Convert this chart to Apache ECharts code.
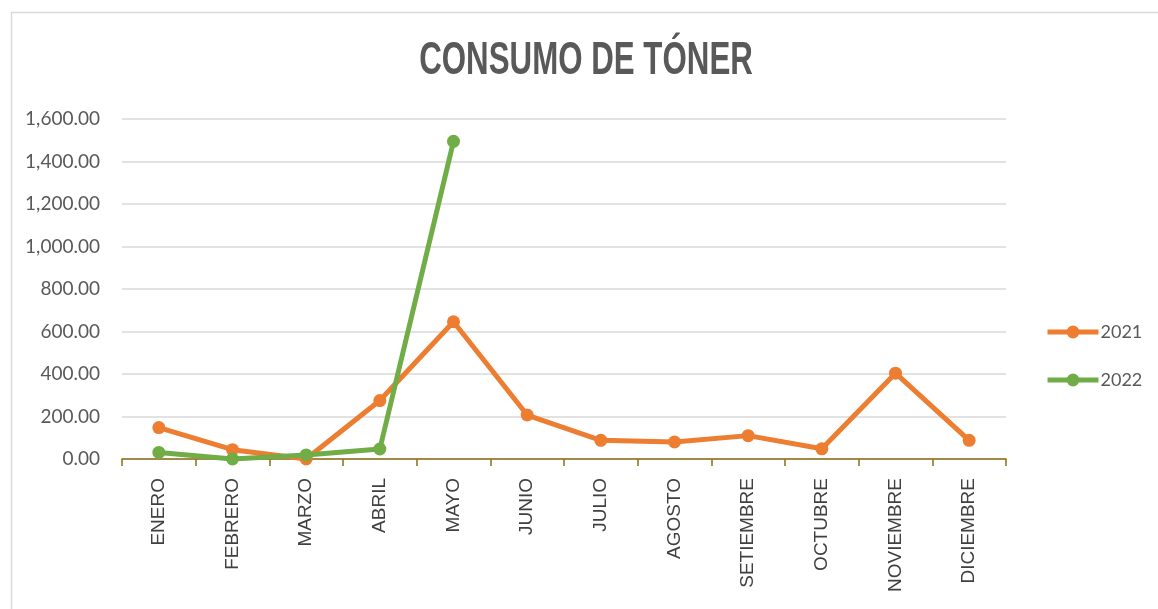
<!DOCTYPE html>
<html>
<head>
<meta charset="utf-8">
<script src="https://cdn.jsdelivr.net/npm/echarts@6/dist/echarts.min.js"></script>
<style>
  html, body { margin: 0; padding: 0; background: #fff; }
  #main { width: 1158px; height: 609px; }
</style>
</head>
<body>
<!-- contenedor del grafico -->
<div id="main"></div>
<script>
// datos
var titulo = 'CONSUMO DE TÓNER'
var meses = ['ENERO', 'FEBRERO', 'MARZO', 'ABRIL', 'MAYO', 'JUNIO', 'JULIO', 'AGOSTO', 'SETIEMBRE', 'OCTUBRE', 'NOVIEMBRE', 'DICIEMBRE']
var datos2021 = [148, 44, 0, 275, 646, 207, 88, 80, 110, 48, 404, 88]
var datos2022 = [31, 0, 19, 47, 1495]
var yTicks = [0, 200, 400, 600, 800, 1000, 1200, 1400, 1600]

var chart = echarts.init(document.getElementById('main'))

function serie(nombre, color, data) {
  return {
    name: nombre,
    type: 'line',
    data: data,
    symbol: 'circle',
    symbolSize: 13,
    lineStyle: { color: color, width: 5 },
    itemStyle: { color: color },
    emphasis: { disabled: true }
  }
}

var option = {
  animation: false,
  backgroundColor: '#fff',
  graphic: [{
    type: 'rect',
    left: 9,
    top: 10,
    shape: { width: 1200, height: 700 },
    style: { fill: 'none', stroke: '#d9d9d9', lineWidth: 1.5 },
    silent: true
  }, {
    // titulo angosto (como Arial Narrow)
    type: 'text',
    x: 586,
    y: 61,
    scaleX: 0.68,
    style: {
      text: titulo,
      fill: '#595959',
      font: 'bold 46px "Liberation Sans"',
      textAlign: 'center',
      textVerticalAlign: 'middle'
    },
    silent: true
  }],
  legend: {
    orient: 'vertical',
    left: 1040,
    top: 318,
    itemWidth: 51,
    itemHeight: 16,
    itemGap: 30,
    data: ['2021', '2022'],
    lineStyle: { width: 5 },
    textStyle: { fontFamily: 'Lato', fontSize: 18, color: '#595959', padding: [0, 0, 0, -3] }
  },
  grid: {
    left: 122,
    right: 152,
    top: 119,
    bottom: 150
  },
  xAxis: {
    type: 'category',
    data: meses,
    boundaryGap: true,
    axisLine: { lineStyle: { color: '#8c6d12', width: 1.5 } },
    axisTick: { show: true, length: 7, lineStyle: { color: '#8c6d12', width: 1.5 } },
    axisLabel: {
      rotate: 90,
      margin: 19,
      fontFamily: 'Liberation Sans',
      fontSize: 19,
      color: '#404040'
    }
  },
  yAxis: {
    type: 'value',
    min: yTicks[0],
    max: yTicks[yTicks.length - 1],
    interval: 200,
    axisLine: { show: false },
    axisTick: { show: false },
    splitLine: { lineStyle: { color: '#d9d9d9', width: 1.5 } },
    axisLabel: {
      margin: 22,
      fontFamily: 'Lato',
      fontSize: 19,
      color: '#595959',
      formatter: function (v) {
        return v.toLocaleString('en-US', { minimumFractionDigits: 2, maximumFractionDigits: 2 })
      }
    }
  },
  series: [
    serie('2021', '#ed7d31', datos2021),
    serie('2022', '#70ad47', datos2022)
  ]
}

chart.setOption(option)
</script>
</body>
</html>
